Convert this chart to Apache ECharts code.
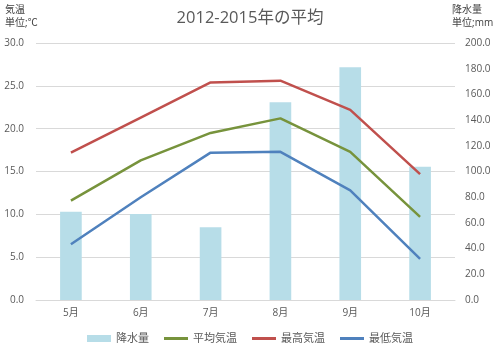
<!DOCTYPE html>
<html><head><meta charset="utf-8">
<script src="https://cdn.jsdelivr.net/npm/echarts@6/dist/echarts.min.js"></script>
<style>html,body{margin:0;padding:0;background:#fff}#c{width:500px;height:354px}</style>
</head><body><div id="c"></div>
<script>
const categories = ['5月','6月','7月','8月','9月','10月'];
const rainfall = [68.7, 66.9, 56.6, 153.8, 181.1, 103.7];
const avgTemp = [11.6, 16.3, 19.5, 21.2, 17.3, 9.7];
const maxTemp = [17.2, 21.3, 25.4, 25.6, 22.2, 14.7];
const minTemp = [6.5, 12.0, 17.2, 17.3, 12.8, 4.8];
const seriesNames = ['降水量','平均気温','最高気温','最低気温'];
const titleText = '2012-2015年の平均';
const leftAxisName = '気温\n単位;℃';
const rightAxisName = '降水量\n単位;mm';

const FONT = "'Open Sans','Noto Sans CJK JP',sans-serif";
const chart = echarts.init(document.getElementById('c'), null, {renderer:'canvas'});
const lineCommon = {type:'line', symbol:'none', yAxisIndex:0, lineStyle:{width:2.5}, z:3};
const lineIcon = 'path://M0,0H24V3H0Z';
chart.setOption({
  animation:false,
  textStyle:{fontFamily:FONT},
  title:{text:titleText, left:'center', top:5, textStyle:{fontSize:16.5, fontWeight:'normal', color:'#595959', fontFamily:FONT}},
  graphic:[
    {type:'text', left:5, top:4, style:{text:leftAxisName, fontSize:10, lineHeight:13, fill:'#404040', fontFamily:FONT}},
    {type:'text', left:452, top:4, style:{text:rightAxisName, fontSize:10, lineHeight:13, fill:'#404040', fontFamily:FONT}}
  ],
  legend:{
    bottom:5, left:'center', itemWidth:24, itemHeight:7, itemGap:15,
    textStyle:{fontSize:11, color:'#595959', fontFamily:FONT},
    data:[{name:seriesNames[0], icon:'rect'},
          {name:seriesNames[1], icon:lineIcon},
          {name:seriesNames[2], icon:lineIcon},
          {name:seriesNames[3], icon:lineIcon}]
  },
  grid:{left:36, right:45, top:43, bottom:54},
  xAxis:{type:'category', data:categories, boundaryGap:true,
    axisLine:{lineStyle:{color:'#d9d9d9'}}, axisTick:{show:false},
    axisLabel:{fontSize:10, color:'#595959', margin:8}},
  yAxis:[
    {type:'value', min:0, max:30, interval:5, position:'left',
     axisLabel:{formatter:v=>v.toFixed(1), fontSize:10, color:'#595959', margin:12},
     splitLine:{lineStyle:{color:'#d9d9d9'}}, axisLine:{show:false}, axisTick:{show:false}},
    {type:'value', min:0, max:200, interval:20, position:'right',
     axisLabel:{formatter:v=>v.toFixed(1), fontSize:10, color:'#595959', margin:10},
     splitLine:{show:false}, axisLine:{show:false}, axisTick:{show:false}}
  ],
  series:[
    {name:seriesNames[0], type:'bar', yAxisIndex:1, data:rainfall, barWidth:'31%', itemStyle:{color:'#b7dde8'}, z:2},
    Object.assign({}, lineCommon, {name:seriesNames[1], data:avgTemp, itemStyle:{color:'#77933c'}, lineStyle:{width:2.5,color:'#77933c'}}),
    Object.assign({}, lineCommon, {name:seriesNames[2], data:maxTemp, itemStyle:{color:'#c0504d'}, lineStyle:{width:2.5,color:'#c0504d'}}),
    Object.assign({}, lineCommon, {name:seriesNames[3], data:minTemp, itemStyle:{color:'#4f81bd'}, lineStyle:{width:2.5,color:'#4f81bd'}})
  ]
});
</script></body></html>
